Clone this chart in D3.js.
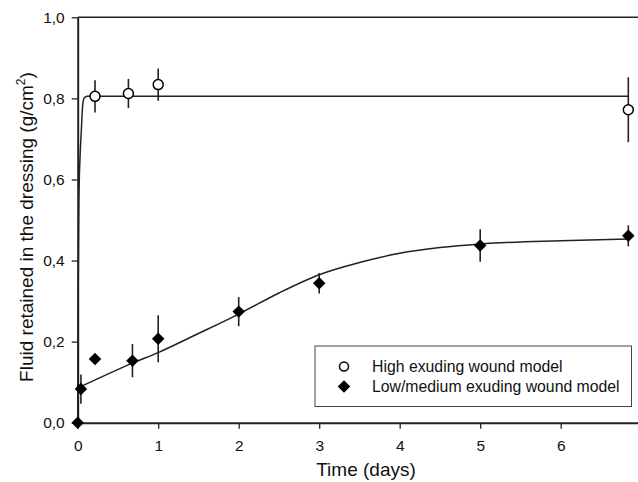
<!DOCTYPE html>
<html><head><meta charset="utf-8">
<script src="https://cdn.jsdelivr.net/npm/d3@7"></script>
<style>
body{margin:0;background:#fff;}
svg{display:block;font-family:"Liberation Sans",Arial,sans-serif;}
</style></head><body>
<svg id="c" width="638" height="482"></svg>
<script>
// ---- data ----
const xTicks = [0,1,2,3,4,5,6,7];
const yTicks = [0,0.2,0.4,0.6,0.8,1.0];
const highX   = [0.215, 0.63, 1.0, 6.84];
const highY   = [0.805, 0.812, 0.834, 0.772];
const highErr = [0.040, 0.036, 0.040, 0.080];
const lowX    = [0, 0.04, 0.215, 0.68, 1.0, 2.0, 3.0, 5.0, 6.84];
const lowY    = [0, 0.083, 0.157, 0.153, 0.207, 0.274, 0.344, 0.437, 0.461];
const lowErr  = [0, 0.036, 0, 0.041, 0.058, 0.036, 0.025, 0.040, 0.026];
const highFitX = [0, 0.005, 0.015, 0.03, 0.045, 0.057, 0.07, 0.09, 0.12, 6.84];
const highFitY = [0, 0.30, 0.55, 0.66, 0.72, 0.77, 0.795, 0.803, 0.805, 0.805];
const lowFitX = [0.07, 0.68, 1.0, 1.5, 2.0, 2.5, 3.0, 3.5, 4.0, 4.5, 5.0, 6.0, 6.84];
const lowFitY = [0.092, 0.147, 0.173, 0.22, 0.268, 0.32, 0.365, 0.395, 0.418, 0.432, 0.441, 0.449, 0.453];
const legendLabels = ["High exuding wound model", "Low/medium exuding wound model"];
const xTitle = "Time (days)";
const yTitle = "Fluid retained in the dressing (g/cm";

// ---- layout ----
const svg = d3.select("#c");
const L = 77.7, T = 17.3, W = 563.5, H = 405.4;
const x = d3.scaleLinear().domain([0,7]).range([L, L+W]);
const y = d3.scaleLinear().domain([0,1]).range([T+H, T]);
const fmt = d => d3.format(".1f")(d).replace(".", ",");
const ink = "#222";

// frame top/right
svg.append("line").attr("x1",L).attr("x2",L+W).attr("y1",T).attr("y2",T).attr("stroke",ink).attr("stroke-width",1.5);
svg.append("line").attr("x1",L+W).attr("x2",L+W).attr("y1",T).attr("y2",T+H).attr("stroke",ink).attr("stroke-width",1.5);

// axes
const xa = svg.append("g").attr("transform",`translate(0,${T+H})`)
  .call(d3.axisBottom(x).tickValues(xTicks).tickSize(6).tickSizeOuter(0).tickPadding(11).tickFormat(d3.format("d")));
const ya = svg.append("g").attr("transform",`translate(${L},0)`)
  .call(d3.axisLeft(y).tickValues(yTicks).tickSize(6).tickSizeOuter(0).tickPadding(7).tickFormat(fmt));
[xa,ya].forEach(g=>{
  g.select(".domain").attr("stroke",ink).attr("stroke-width",2);
  g.selectAll(".tick line").attr("stroke",ink).attr("stroke-width",1.3);
  g.selectAll(".tick text").attr("fill","#111").style("font-size","15.5px").style("font-family","'Liberation Sans',Arial,sans-serif");
});

// axis titles
svg.append("text").attr("x",366).attr("y",476).attr("text-anchor","middle")
  .style("font-size","19px").attr("fill","#111").text(xTitle);
const yt = svg.append("text").attr("transform",`translate(33,227) rotate(-90)`).attr("text-anchor","middle")
  .style("font-size","19px").attr("fill","#111");
yt.append("tspan").text(yTitle);
yt.append("tspan").attr("dy",-8).style("font-size","12px").text("2");
yt.append("tspan").attr("dy",8).text(")");

// fit curves
const line = d3.line().x(d=>x(d[0])).y(d=>y(d[1])).curve(d3.curveMonotoneX);
svg.append("path").datum(highFitX.map((v,i)=>[v,highFitY[i]])).attr("d",line)
  .attr("fill","none").attr("stroke",ink).attr("stroke-width",1.5);
svg.append("path").datum(lowFitX.map((v,i)=>[v,lowFitY[i]])).attr("d",line)
  .attr("fill","none").attr("stroke",ink).attr("stroke-width",1.5);

// error bars
const high = highX.map((v,i)=>({x:v,y:highY[i],e:highErr[i]}));
const low = lowX.map((v,i)=>({x:v,y:lowY[i],e:lowErr[i]}));
[high,low].forEach(s=>{
  svg.append("g").selectAll("line").data(s.filter(d=>d.e>0)).join("line")
    .attr("x1",d=>x(d.x)).attr("x2",d=>x(d.x))
    .attr("y1",d=>y(d.y+d.e)).attr("y2",d=>y(d.y-d.e))
    .attr("stroke",ink).attr("stroke-width",1.6);
});

// markers
const diamond = d3.symbol().type(d3.symbolSquare).size(78);
svg.append("g").selectAll("path").data(low).join("path")
  .attr("transform",d=>`translate(${x(d.x)},${y(d.y)}) rotate(45)`)
  .attr("d",diamond).attr("fill","#000");
svg.append("g").selectAll("circle").data(high).join("circle")
  .attr("cx",d=>x(d.x)).attr("cy",d=>y(d.y)).attr("r",5)
  .attr("fill","#fff").attr("stroke","#000").attr("stroke-width",1.5);

// legend
const lg = svg.append("g");
lg.append("rect").attr("x",315).attr("y",346).attr("width",316.5).attr("height",60.5)
  .attr("fill","#fff").attr("stroke","#444").attr("stroke-width",1);
lg.append("circle").attr("cx",344).attr("cy",366.5).attr("r",4.5).attr("fill","#fff").attr("stroke","#000").attr("stroke-width",1.5);
lg.append("path").attr("transform","translate(344,386.5) rotate(45)").attr("d",diamond).attr("fill","#000");
legendLabels.forEach((t,i)=>{
  lg.append("text").attr("x",372).attr("y",372+i*20).style("font-size","15.8px").attr("fill","#111").text(t);
});
</script>
</body></html>
